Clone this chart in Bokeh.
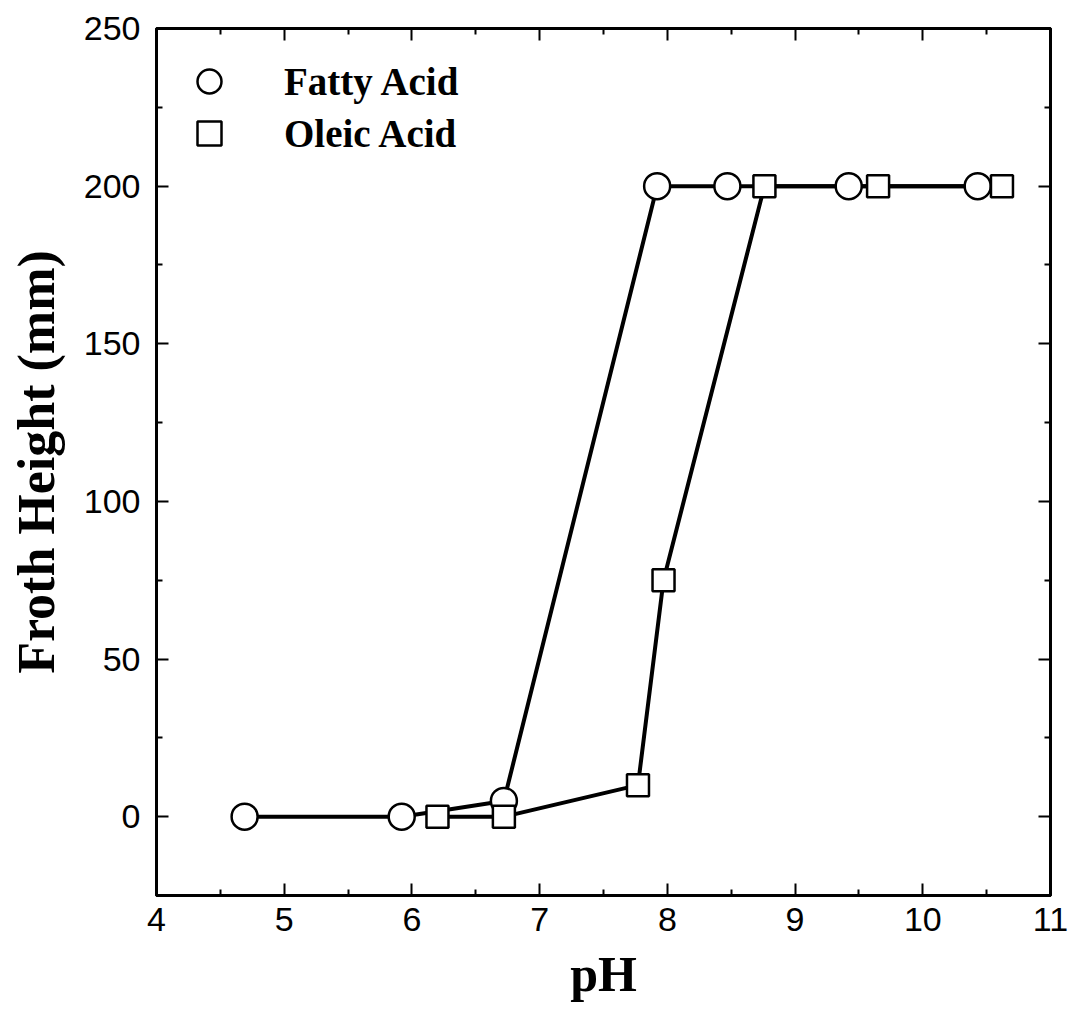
from bokeh.plotting import figure
from bokeh.models import FixedTicker, LinearAxis, Range1d, Legend, LegendItem
from bokeh.embed import file_html
from bokeh.resources import INLINE

fatty_ph = [4.69, 5.92, 6.72, 7.92, 8.47, 9.42, 10.43]
fatty_h = [0, 0, 5, 200, 200, 200, 200]
oleic_ph = [6.20, 6.72, 7.77, 7.97, 8.76, 9.65, 10.62]
oleic_h = [0, 0, 10, 75, 200, 200, 200]

x_ticks = [4, 5, 6, 7, 8, 9, 10, 11]
x_minor = [4.5, 5.5, 6.5, 7.5, 8.5, 9.5, 10.5]
y_ticks = [0, 50, 100, 150, 200, 250]
y_minor = [-25, 25, 75, 125, 175, 225]

p = figure(width=1071, height=1009, output_backend="svg", toolbar_location=None,
           x_range=Range1d(4, 11), y_range=Range1d(-25, 250),
           min_border_left=156, min_border_right=21, min_border_top=28, min_border_bottom=114,
           x_axis_label="pH", y_axis_label="Froth Height (mm)")
p.grid.visible = False
p.outline_line_color = "black"
p.outline_line_width = 3
p.background_fill_color = "white"
p.border_fill_color = "white"

def style(ax, ticks, minor, labels=True):
    ax.ticker = FixedTicker(ticks=ticks, minor_ticks=minor)
    ax.axis_line_width = 3
    ax.major_tick_in = 12
    ax.major_tick_out = 0
    ax.minor_tick_in = 6
    ax.minor_tick_out = 0
    ax.major_tick_line_width = 2
    ax.minor_tick_line_width = 2
    ax.major_label_text_font = "Liberation Sans"
    ax.major_label_text_font_size = "34px"
    ax.major_label_text_color = "black"
    ax.axis_label_text_color = "black"
    if not labels:
        ax.major_label_text_font_size = "0px"
        ax.major_label_text_alpha = 0

for ax in p.xaxis:
    style(ax, x_ticks, x_minor)
    ax.major_label_standoff = 12
    ax.axis_label_text_font = "Liberation Serif"
    ax.axis_label_text_font_style = "bold"
    ax.axis_label_text_font_size = "50px"
    ax.axis_label_standoff = 12
for ax in p.yaxis:
    style(ax, y_ticks, y_minor)
    ax.major_label_standoff = 16
    ax.axis_label_text_font = "Liberation Serif"
    ax.axis_label_text_font_style = "bold"
    ax.axis_label_text_font_size = "52px"
    ax.axis_label_standoff = 16

top = LinearAxis()
style(top, x_ticks, x_minor, labels=False)
p.add_layout(top, "above")
right = LinearAxis()
style(right, y_ticks, y_minor, labels=False)
p.add_layout(right, "right")

p.line(fatty_ph, fatty_h, line_color="black", line_width=4)
p.line(oleic_ph, oleic_h, line_color="black", line_width=4)
r1 = p.scatter(fatty_ph, fatty_h, marker="circle", size=26, fill_color="white",
               line_color="black", line_width=2.5)
r2 = p.scatter(oleic_ph, oleic_h, marker="square", size=22, fill_color="white",
               line_color="black", line_width=2.5)

def make_legend(label, renderer, location, margin):
    lg = Legend(items=[LegendItem(label=label, renderers=[renderer])], location=location)
    lg.margin = margin
    lg.padding = 13
    lg.glyph_width = 60
    lg.glyph_height = 60
    lg.label_standoff = 45
    lg.label_text_font = "Liberation Serif"
    lg.label_text_font_style = "bold"
    lg.label_text_font_size = "39px"
    lg.label_text_color = "black"
    lg.border_line_alpha = 0
    lg.background_fill_alpha = 0
    return lg

p.add_layout(make_legend("Fatty Acid", r1, "top_left", 10))
p.add_layout(make_legend("Oleic Acid", r2, (10, 719), 0))

open("out.html", "w").write(file_html(p, INLINE))
